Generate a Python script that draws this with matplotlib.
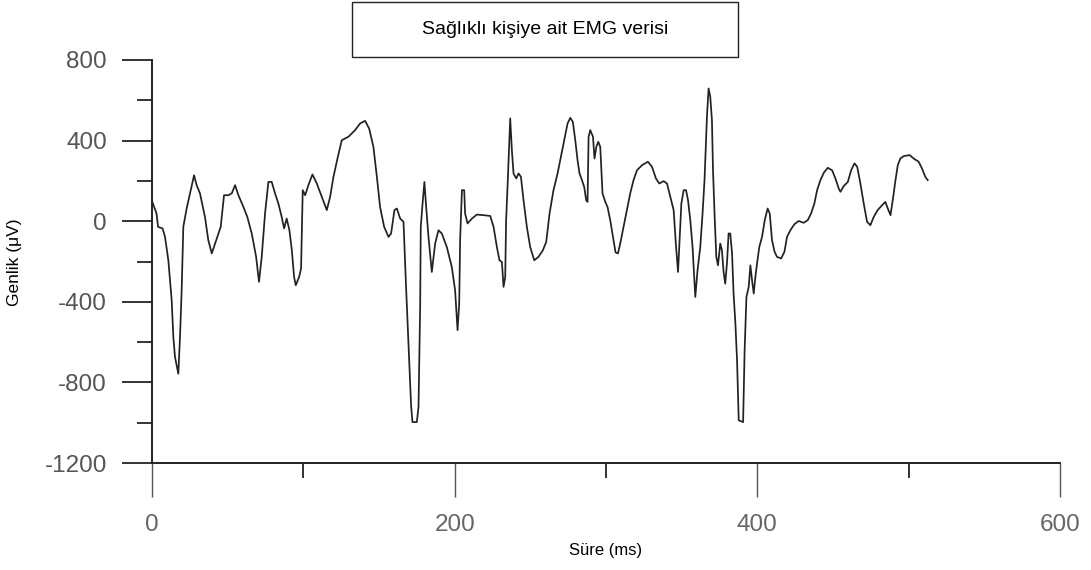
import matplotlib
matplotlib.use('Agg')
import matplotlib.pyplot as plt
from matplotlib.patches import Rectangle
from matplotlib.ticker import MultipleLocator

# EMG sinyali
sure_ms = [0, 3, 4, 7, 8.6, 10.8, 13, 14.1, 15.2, 17.4, 18.5, 19.6, 20.7, 22.9, 25.1, 27.8, 29.5,
           31.7, 35, 37.2, 39.5, 42.8, 45.4, 47.6, 50.5, 52.7, 54.9, 57.1, 60.4, 63, 65.9, 68.8,
           70.7, 72.5, 74.7, 76.9, 79.1, 81.3, 83.5, 85.7, 87.3, 89, 90.8, 92.4, 93.9, 95, 97.2,
           98.5, 99.6, 101.2, 103.4, 106, 108.9, 112.2, 115.5, 117.7, 119.9, 122.8, 125.4, 129.8,
           134.2, 137.5, 140.8, 143.5, 146.3, 148.6, 150.7, 153.4, 156.3, 158, 160.2, 161.8, 164,
           166.2, 167.7, 169.5, 171.2, 172.1, 175, 176.1, 177.2, 177.6, 178.7, 180, 181, 182.7,
           184.9, 187.1, 189.3, 191.5, 194.8, 198.1, 200.3, 201.9, 203, 203.6, 204.8, 206.3, 206.9,
           208.5, 211.4, 214.7, 219, 223.5, 225.7, 227.9, 229.6, 231.2, 232.3, 233.4, 234, 235.2,
           236.7, 237.8, 238.9, 240.7, 242.2, 243.8, 245.5, 247.7, 249.9, 252.6, 255.4, 258.3,
           260.5, 262.7, 265.3, 268, 270.2, 272.4, 274.6, 276.4, 278.1, 279.7, 281.2, 282.5, 284.1,
           285.6, 286.9, 287.8, 288.5, 289.6, 291.4, 292.4, 293.6, 294.9, 296.2, 297.7, 299.5, 301,
           302.8, 304.6, 306.3, 307.9, 309.4, 311.6, 313.8, 316, 318.2, 320.5, 323.8, 327.7, 330.4,
           333, 335.2, 338.1, 340.3, 342.5, 344.7, 346.3, 347.6, 348.6, 349.8, 351.3, 352.9, 354.2,
           355.7, 357.2, 359, 360.5, 362.3, 363.8, 365.1, 366.7, 367.8, 368.9, 370, 370.7, 371.8,
           372.9, 374, 375.5, 376.6, 377.7, 378.8, 380, 381, 382.1, 383.3, 384.3, 385.5, 386.6,
           387.7, 390.6, 391.6, 392.8, 394.3, 395.4, 396.5, 397.6, 398.7, 399.8, 401.3, 403.1,
           404.9, 406.8, 408.2, 409.7, 411.4, 413, 415.7, 417.9, 419.6, 421.8, 424.5, 427.3, 430.6,
           433.3, 435.5, 437.7, 439.5, 441.7, 443.9, 446.5, 449.4, 451.6, 453.8, 454.9, 457.1,
           459.8, 462, 464.2, 466, 468.1, 470.3, 472.5, 474.7, 476.9, 479.5, 482.4, 484.6, 486.2,
           488, 489.8, 491.3, 492.8, 494.5, 496.7, 500.7, 503.3, 506.6, 508.8, 511, 512.6]

genlik_uv = [100, 38, -28, -36, -78, -194, -392, -575, -674, -757, -575, -343, -28, 63, 138, 228, 179,
             138, 21, -94, -160, -86, -28, 129, 129, 138, 179, 129, 71, 21, -61, -177,
             -301, -177, 38, 195, 195, 138, 88, 21, -36, 13, -45, -144, -277, -318, -277,
             -235, 154, 129, 180, 232, 187, 121, 55, 121, 220, 319, 402, 419,
             452, 485, 498, 460, 369, 220, 71, -28, -78, -61, 55, 63, 13,
             -3, -293, -608, -914, -997, -997, -922, -426, -28, 79, 195, 88, -78,
             -252, -111, -45, -61, -128, -227, -343, -541, -409, -94, 154, 154, 38,
             -11, 13, 33, 30, 26, -28, -128, -194, -202, -326, -277, 5, 220,
             510, 353, 237, 212, 237, 220, 104, -28, -128, -194, -177, -144,
             -103, 38, 154, 237, 319, 402, 485, 513, 493, 402, 303, 237, 204,
             170, 104, 96, 419, 452, 419, 311, 369, 394, 369, 138, 96, 71,
             5, -78, -155, -160, -111, -28, 55, 138, 204, 253, 278, 295, 270,
             212, 187, 199, 187, 121, 55, -128, -252, -94, 88, 154, 154, 104,
             5, -128, -376, -243, -128, 38, 204, 518, 659, 618, 502, 253, 21,
             -177, -219, -111, -144, -252, -310, -202, -61, -61, -160, -359, -508, -690,
             -988, -997, -641, -376, -326, -219, -293, -359, -277, -210, -128, -78,
             5, 63, 38, -94, -152, -177, -185, -152, -78, -45, -15, 1, -8,
             5, 38, 88, 154, 204, 240, 265, 253, 212, 162, 146, 174,
             195, 253, 287, 270, 187, 88, -3, -20, 21, 55, 79, 96, 63,
             30, 121, 204, 278, 311, 323, 328, 311, 295, 262, 220, 204]

baslik = 'Sağlıklı kişiye ait EMG verisi'

plt.rcParams['font.family'] = ['Liberation Sans', 'DejaVu Sans']
plt.rcParams['axes.unicode_minus'] = False   # "-1200" duz tire ile

fig = plt.figure(figsize=(10.91, 5.70), dpi=100)
ax = fig.add_axes([152 / 1091, 107 / 570, 908 / 1091, 403 / 570])

ax.plot(sure_ms, genlik_uv, color='#222222', linewidth=1.25)

ax.set_xlim(0, 600)
ax.set_ylim(-1200, 800)
ax.set_xticks([0, 200, 400, 600])
ax.set_yticks([-1200, -800, -400, 0, 400, 800])
ax.xaxis.set_minor_locator(MultipleLocator(100))
ax.yaxis.set_minor_locator(MultipleLocator(200))

# eksenler
for s in ['top', 'right']:
    ax.spines[s].set_visible(False)
for s in ['left', 'bottom']:
    ax.spines[s].set_linewidth(1.4)
    ax.spines[s].set_color('#222222')

ax.tick_params(axis='y', which='major', length=21.5, width=1.4, color='#333333',
               pad=11, labelsize=17.5, labelcolor='#555555')
ax.tick_params(axis='y', which='minor', length=10.8, width=1.4, color='#333333')
ax.tick_params(axis='x', which='major', length=24.5, width=1.0, color='#555555',
               pad=12, labelsize=17.5, labelcolor='#666666')
ax.tick_params(axis='x', which='minor', length=10.8, width=1.4, color='#333333')

fig.text(606 / 1091, 1 - 551 / 570, 'Süre (ms)', ha='center', va='center', fontsize=12)
fig.text(15 / 1091, 1 - 262 / 570, 'Genlik (μV)', ha='center', va='center',
         rotation=90, fontsize=12.5)

# baslik kutusu
fig.patches.append(Rectangle((352 / 1091, 1 - 57 / 570), 386 / 1091, 55 / 570,
                             transform=fig.transFigure, fill=False,
                             edgecolor='#222222', linewidth=1.0))
fig.text(545 / 1091, 1 - 30 / 570, baslik, ha='center', va='center', fontsize=14)

plt.savefig('out.png', dpi=100)
